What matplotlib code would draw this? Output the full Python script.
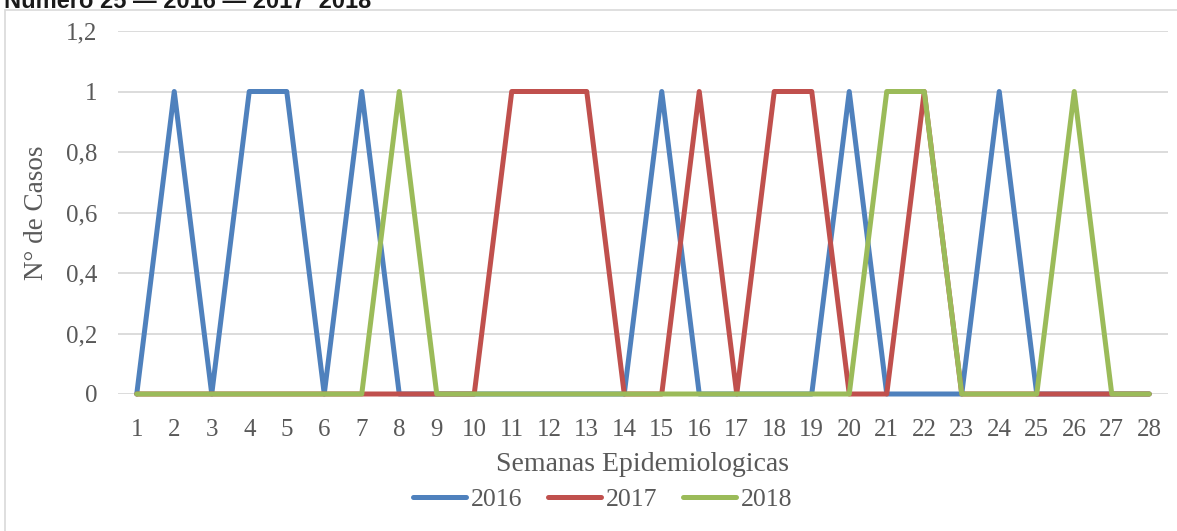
import numpy as np
import matplotlib.pyplot as plt
from matplotlib.patches import Rectangle

# data: cases per epidemiological week
semanas = list(range(1, 29))
casos_2016 = [0, 1, 0, 1, 1, 0, 1, 0, 0, 0, 0, 0, 0, 0, 1, 0, 0, 0, 0, 1, 0, 0, 0, 1, 0, 0, 0, 0]
casos_2017 = [0, 0, 0, 0, 0, 0, 0, 0, 0, 0, 1, 1, 1, 0, 0, 1, 0, 1, 1, 0, 0, 1, 0, 0, 0, 0, 0, 0]
casos_2018 = [0, 0, 0, 0, 0, 0, 0, 1, 0, 0, 0, 0, 0, 0, 0, 0, 0, 0, 0, 0, 1, 1, 0, 0, 0, 1, 0, 0]
y_ticks = [0, 0.2, 0.4, 0.6, 0.8, 1, 1.2]
y_labels = ["0", "0,2", "0,4", "0,6", "0,8", "1", "1,2"]

gris = "#595959"
fig = plt.figure(figsize=(11.77, 5.31), dpi=100)

# chart frame and the cut-off header above it
fig.patches.append(Rectangle((5 / 1177, -0.01), 1.0, 1 - 10 / 531 + 0.01,
                             transform=fig.transFigure, fill=False,
                             edgecolor="#d9d9d9", linewidth=1.2))
fig.text(0.003, 0.998, "Número 25 — 2016 — 2017  2018", fontsize=17,
         fontweight="bold", color="#1a1a1a", ha="left", va="center",
         family="Liberation Sans")

ax = fig.add_axes([118 / 1177, 1 - 394 / 531, 1050 / 1177, 363 / 531])

series = [("2016", casos_2016, "#4F81BD"),
          ("2017", casos_2017, "#C0504D"),
          ("2018", casos_2018, "#9BBB59")]
for nombre, valores, color in series:
    ax.plot(semanas, valores, color=color, lw=3.6, label=nombre,
            solid_capstyle="round", solid_joinstyle="round", clip_on=False, zorder=3)

ax.set_xlim(0.5, 28.5)
ax.set_ylim(0, 1.2)
ax.set_xticks(semanas)
ax.set_xticklabels([str(s) for s in semanas])
ax.set_yticks(y_ticks)
ax.set_yticklabels(y_labels)
ax.grid(axis="y", color="#d9d9d9", lw=1.3)
ax.set_axisbelow(True)
for s in ax.spines.values():
    s.set_visible(False)
ax.tick_params(length=0, labelsize=18, colors=gris, labelfontfamily="Liberation Serif")
ax.tick_params(axis="x", pad=18)
ax.tick_params(axis="y", pad=15)

ax.set_xlabel("Semanas Epidemiologicas", fontsize=20, color=gris,
              family="Liberation Serif", labelpad=8)
ax.set_ylabel("N° de Casos", fontsize=19.5, color=gris,
              family="Liberation Serif", labelpad=12)

leg = ax.legend(loc="center", bbox_to_anchor=(0.462, -0.292), ncol=3,
                frameon=False, handlelength=2.05, columnspacing=1.0,
                handletextpad=0.2, prop={"family": "Liberation Serif", "size": 18.5})
for t in leg.get_texts():
    t.set_color(gris)

fig.savefig("out.png", dpi=100)
